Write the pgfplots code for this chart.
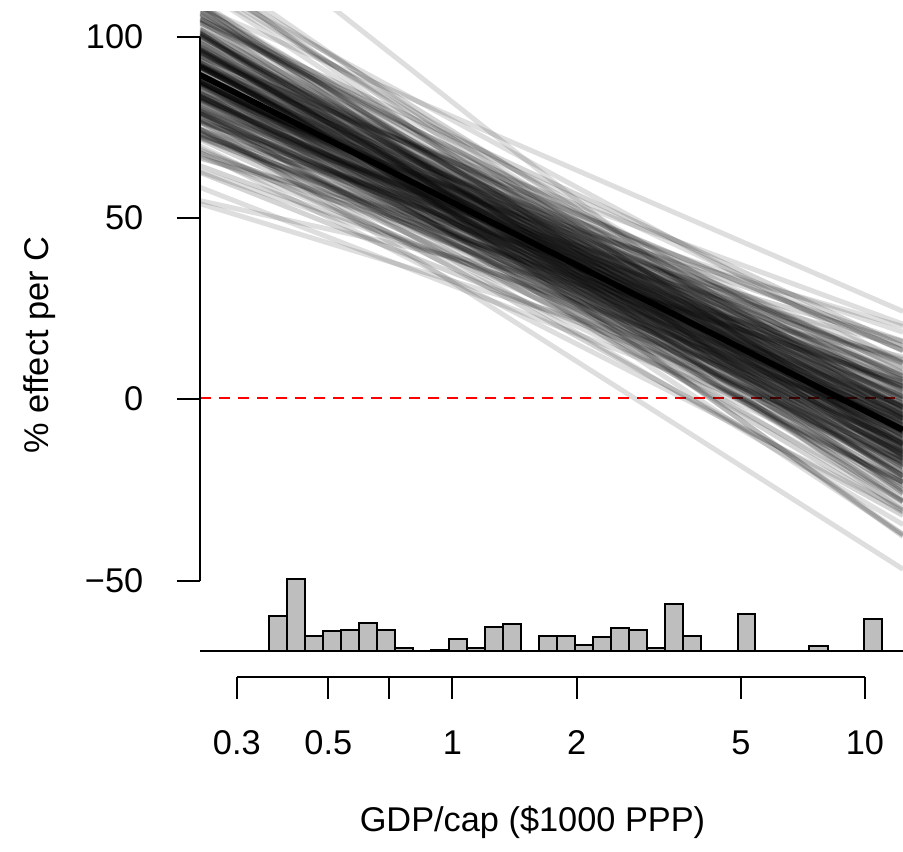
\documentclass[border=0pt]{standalone}
\usepackage{fontspec}
\setmainfont{Liberation Sans}
\usepackage{pgfplots}
\pgfplotsset{compat=1.18}
\definecolor{histgray}{RGB}{190,190,190}
\definecolor{rred}{RGB}{255,0,0}
\newcommand{\lbl}{\fontsize{10.3}{12}\selectfont}
\begin{document}
\begin{tikzpicture}
\path[use as bounding box] (0,0) rectangle (270.9pt,255.3pt);
% ---------- bootstrap lines ----------
\begin{axis}[scale only axis, width=210.9pt, height=192pt, at={(60pt,60pt)}, anchor=south west,
  xmode=log, xmin=0.2443, xmax=12.37, ymin=-69.84, ymax=106.62, hide axis,
  bl/.style={black, draw opacity=0.13, line width=1.5pt},
  bm/.style={black, draw opacity=0.17, line width=1.5pt}]
\addplot[rred, line width=0.6pt, dash pattern=on 3.3pt off 2.4pt] coordinates {(0.2443,0) (12.37,0)};
% set 1
\addplot[bl] coordinates {(0.2443,76.17) (12.37,-47.29)};
\addplot[bl] coordinates {(0.2443,67.71) (12.37,-31.00)};
\addplot[bl] coordinates {(0.2443,58.00) (12.37,-17.36)};
\addplot[bl] coordinates {(0.2443,79.02) (12.37,-34.97)};
\addplot[bl] coordinates {(0.2443,69.46) (12.37,-23.32)};
\addplot[bl] coordinates {(0.2443,53.50) (12.37,-5.81)};
\addplot[bl] coordinates {(0.2443,78.45) (12.37,-28.52)};
\addplot[bl] coordinates {(0.2443,68.79) (12.37,-17.63)};
\addplot[bl] coordinates {(0.2443,90.80) (12.37,-37.78)};
\addplot[bl] coordinates {(0.2443,77.38) (12.37,-23.46)};
\addplot[bl] coordinates {(0.2443,66.81) (12.37,-12.01)};
\addplot[bl] coordinates {(0.2443,86.65) (12.37,-30.33)};
\addplot[bl] coordinates {(0.2443,76.01) (12.37,-18.95)};
\addplot[bl] coordinates {(0.2443,62.45) (12.37,-4.77)};
\addplot[bl] coordinates {(0.2443,84.23) (12.37,-25.15)};
\addplot[bl] coordinates {(0.2443,74.26) (12.37,-14.57)};
\addplot[bl] coordinates {(0.2443,98.78) (12.37,-37.71)};
\addplot[bl] coordinates {(0.2443,82.24) (12.37,-20.78)};
\addplot[bl] coordinates {(0.2443,71.90) (12.37,-9.91)};
\addplot[bl] coordinates {(0.2443,91.80) (12.37,-28.64)};
\addplot[bl] coordinates {(0.2443,80.35) (12.37,-16.74)};
\addplot[bl] coordinates {(0.2443,68.18) (12.37,-4.16)};
\addplot[bl] coordinates {(0.2443,88.55) (12.37,-23.39)};
\addplot[bl] coordinates {(0.2443,78.34) (12.37,-12.76)};
\addplot[bl] coordinates {(0.2443,54.34) (12.37,11.31)};
\addplot[bl] coordinates {(0.2443,86.13) (12.37,-19.12)};
\addplot[bl] coordinates {(0.2443,75.95) (12.37,-8.57)};
\addplot[bl] coordinates {(0.2443,96.53) (12.37,-28.08)};
\addplot[bl] coordinates {(0.2443,84.00) (12.37,-15.24)};
\addplot[bl] coordinates {(0.2443,72.67) (12.37,-3.61)};
\addplot[bl] coordinates {(0.2443,92.40) (12.37,-22.30)};
\addplot[bl] coordinates {(0.2443,81.86) (12.37,-11.46)};
\addplot[bl] coordinates {(0.2443,66.20) (12.37,4.40)};
\addplot[bl] coordinates {(0.2443,89.63) (12.37,-17.94)};
\addplot[bl] coordinates {(0.2443,79.51) (12.37,-7.52)};
\addplot[bl] coordinates {(0.2443,101.59) (12.37,-28.55)};
\addplot[bl] coordinates {(0.2443,87.32) (12.37,-14.08)};
\addplot[bl] coordinates {(0.2443,76.54) (12.37,-3.04)};
\addplot[bl] coordinates {(0.2443,96.15) (12.37,-21.66)};
\addplot[bl] coordinates {(0.2443,85.12) (12.37,-10.37)};
\addplot[bl] coordinates {(0.2443,71.82) (12.37,3.14)};
\addplot[bl] coordinates {(0.2443,92.97) (12.37,-17.03)};
\addplot[bl] coordinates {(0.2443,82.81) (12.37,-6.59)};
\addplot[bl] coordinates {(0.2443,108.48) (12.37,-31.17)};
\addplot[bl] coordinates {(0.2443,90.49) (12.37,-13.08)};
\addplot[bl] coordinates {(0.2443,80.09) (12.37,-2.43)};
\addplot[bl] coordinates {(0.2443,100.00) (12.37,-21.39)};
\addplot[bl] coordinates {(0.2443,88.23) (12.37,-9.39)};
\addplot[bl] coordinates {(0.2443,76.23) (12.37,2.82)};
\addplot[bl] coordinates {(0.2443,96.30) (12.37,-16.29)};
\addplot[bl] coordinates {(0.2443,85.98) (12.37,-5.70)};
\addplot[bl] coordinates {(0.2443,66.00) (12.37,14.32)};
\addplot[bl] coordinates {(0.2443,93.64) (12.37,-12.19)};
\addplot[bl] coordinates {(0.2443,83.44) (12.37,-1.73)};
\addplot[bl] coordinates {(0.2443,104.26) (12.37,-21.57)};
\addplot[bl] coordinates {(0.2443,91.33) (12.37,-8.45)};
\addplot[bl] coordinates {(0.2443,80.15) (12.37,2.99)};
\addplot[bl] coordinates {(0.2443,99.77) (12.37,-15.68)};
\addplot[bl] coordinates {(0.2443,89.11) (12.37,-4.76)};
\addplot[bl] coordinates {(0.2443,74.18) (12.37,10.32)};
\addplot[bl] coordinates {(0.2443,96.85) (12.37,-11.31)};
\addplot[bl] coordinates {(0.2443,86.73) (12.37,-0.91)};
\addplot[bl] coordinates {(0.2443,109.41) (12.37,-22.53)};
\addplot[bl] coordinates {(0.2443,94.49) (12.37,-7.44)};
\addplot[bl] coordinates {(0.2443,83.84) (12.37,3.49)};
\addplot[bl] coordinates {(0.2443,103.48) (12.37,-15.16)};
\addplot[bl] coordinates {(0.2443,92.31) (12.37,-3.71)};
\addplot[bl] coordinates {(0.2443,79.41) (12.37,9.44)};
\addplot[bl] coordinates {(0.2443,100.26) (12.37,-10.37)};
\addplot[bl] coordinates {(0.2443,90.09) (12.37,0.12)};
\addplot[bl] coordinates {(0.2443,117.77) (12.37,-26.35)};
\addplot[bl] coordinates {(0.2443,97.83) (12.37,-6.29)};
\addplot[bl] coordinates {(0.2443,87.55) (12.37,4.34)};
\addplot[bl] coordinates {(0.2443,107.67) (12.37,-14.72)};
\addplot[bl] coordinates {(0.2443,95.73) (12.37,-2.45)};
\addplot[bl] coordinates {(0.2443,84.02) (12.37,9.61)};
\addplot[bl] coordinates {(0.2443,104.00) (12.37,-9.28)};
\addplot[bl] coordinates {(0.2443,93.68) (12.37,1.45)};
\addplot[bl] coordinates {(0.2443,75.77) (12.37,19.62)};
\addplot[bl] coordinates {(0.2443,101.54) (12.37,-4.86)};
\addplot[bl] coordinates {(0.2443,91.48) (12.37,5.68)};
\addplot[bl] coordinates {(0.2443,112.74) (12.37,-14.38)};
\addplot[bl] coordinates {(0.2443,99.57) (12.37,-0.74)};
\addplot[bl] coordinates {(0.2443,88.67) (12.37,10.68)};
\addplot[bl] coordinates {(0.2443,108.42) (12.37,-7.80)};
\addplot[bl] coordinates {(0.2443,97.81) (12.37,3.41)};
\addplot[bl] coordinates {(0.2443,83.72) (12.37,18.06)};
\addplot[bl] coordinates {(0.2443,106.00) (12.37,-2.77)};
\addplot[bl] coordinates {(0.2443,96.11) (12.37,7.88)};
\addplot[bl] coordinates {(0.2443,119.80) (12.37,-14.20)};
\addplot[bl] coordinates {(0.2443,104.43) (12.37,1.95)};
\addplot[bl] coordinates {(0.2443,94.22) (12.37,13.12)};
\addplot[bl] coordinates {(0.2443,114.34) (12.37,-5.18)};
\addplot[bl] coordinates {(0.2443,103.46) (12.37,6.90)};
\addplot[bl] coordinates {(0.2443,91.47) (12.37,20.28)};
\addplot[bl] coordinates {(0.2443,112.72) (12.37,1.44)};
\addplot[bl] coordinates {(0.2443,103.40) (12.37,12.85)};
\addplot[bl] coordinates {(0.2443,136.36) (12.37,-16.41)};
\addplot[bl] coordinates {(0.2443,114.14) (12.37,9.44)};
\addplot[bl] coordinates {(0.2443,107.66) (12.37,23.80)};
% set 2
\addplot[bm] coordinates {(0.2443,74.04) (12.37,-32.47)};
\addplot[bm] coordinates {(0.2443,62.13) (12.37,-14.83)};
\addplot[bm] coordinates {(0.2443,73.99) (12.37,-23.30)};
\addplot[bm] coordinates {(0.2443,84.70) (12.37,-31.57)};
\addplot[bm] coordinates {(0.2443,71.22) (12.37,-16.65)};
\addplot[bm] coordinates {(0.2443,80.23) (12.37,-24.04)};
\addplot[bm] coordinates {(0.2443,63.94) (12.37,-6.88)};
\addplot[bm] coordinates {(0.2443,76.87) (12.37,-18.41)};
\addplot[bm] coordinates {(0.2443,86.27) (12.37,-26.57)};
\addplot[bm] coordinates {(0.2443,72.79) (12.37,-12.50)};
\addplot[bm] coordinates {(0.2443,81.74) (12.37,-20.41)};
\addplot[bm] coordinates {(0.2443,100.82) (12.37,-38.23)};
\addplot[bm] coordinates {(0.2443,78.01) (12.37,-15.22)};
\addplot[bm] coordinates {(0.2443,86.83) (12.37,-23.13)};
\addplot[bm] coordinates {(0.2443,73.19) (12.37,-9.15)};
\addplot[bm] coordinates {(0.2443,82.51) (12.37,-17.60)};
\addplot[bm] coordinates {(0.2443,94.60) (12.37,-28.82)};
\addplot[bm] coordinates {(0.2443,78.55) (12.37,-12.55)};
\addplot[bm] coordinates {(0.2443,87.11) (12.37,-20.34)};
\addplot[bm] coordinates {(0.2443,72.85) (12.37,-5.88)};
\addplot[bm] coordinates {(0.2443,82.93) (12.37,-15.18)};
\addplot[bm] coordinates {(0.2443,93.21) (12.37,-24.72)};
\addplot[bm] coordinates {(0.2443,78.75) (12.37,-10.08)};
\addplot[bm] coordinates {(0.2443,87.25) (12.37,-17.90)};
\addplot[bm] coordinates {(0.2443,71.59) (12.37,-2.13)};
\addplot[bm] coordinates {(0.2443,83.15) (12.37,-12.95)};
\addplot[bm] coordinates {(0.2443,92.49) (12.37,-21.62)};
\addplot[bm] coordinates {(0.2443,78.68) (12.37,-7.69)};
\addplot[bm] coordinates {(0.2443,87.32) (12.37,-15.68)};
\addplot[bm] coordinates {(0.2443,67.42) (12.37,4.19)};
\addplot[bm] coordinates {(0.2443,83.23) (12.37,-10.84)};
\addplot[bm] coordinates {(0.2443,92.04) (12.37,-19.02)};
\addplot[bm] coordinates {(0.2443,78.35) (12.37,-5.24)};
\addplot[bm] coordinates {(0.2443,87.33) (12.37,-13.59)};
\addplot[bm] coordinates {(0.2443,100.65) (12.37,-26.19)};
\addplot[bm] coordinates {(0.2443,83.20) (12.37,-8.75)};
\addplot[bm] coordinates {(0.2443,91.74) (12.37,-16.69)};
\addplot[bm] coordinates {(0.2443,77.70) (12.37,-2.58)};
\addplot[bm] coordinates {(0.2443,87.32) (12.37,-11.59)};
\addplot[bm] coordinates {(0.2443,98.09) (12.37,-21.73)};
\addplot[bm] coordinates {(0.2443,83.08) (12.37,-6.67)};
\addplot[bm] coordinates {(0.2443,91.51) (12.37,-14.54)};
\addplot[bm] coordinates {(0.2443,76.49) (12.37,0.51)};
\addplot[bm] coordinates {(0.2443,87.26) (12.37,-9.63)};
\addplot[bm] coordinates {(0.2443,96.87) (12.37,-18.65)};
\addplot[bm] coordinates {(0.2443,82.82) (12.37,-4.55)};
\addplot[bm] coordinates {(0.2443,91.35) (12.37,-12.50)};
\addplot[bm] coordinates {(0.2443,73.89) (12.37,4.93)};
\addplot[bm] coordinates {(0.2443,87.18) (12.37,-7.70)};
\addplot[bm] coordinates {(0.2443,96.14) (12.37,-16.07)};
\addplot[bm] coordinates {(0.2443,82.44) (12.37,-2.30)};
\addplot[bm] coordinates {(0.2443,91.23) (12.37,-10.50)};
\addplot[bm] coordinates {(0.2443,107.01) (12.37,-25.56)};
\addplot[bm] coordinates {(0.2443,87.08) (12.37,-5.72)};
\addplot[bm] coordinates {(0.2443,95.68) (12.37,-13.75)};
\addplot[bm] coordinates {(0.2443,81.84) (12.37,0.15)};
\addplot[bm] coordinates {(0.2443,91.14) (12.37,-8.56)};
\addplot[bm] coordinates {(0.2443,102.65) (12.37,-19.43)};
\addplot[bm] coordinates {(0.2443,86.94) (12.37,-3.71)};
\addplot[bm] coordinates {(0.2443,95.39) (12.37,-11.58)};
\addplot[bm] coordinates {(0.2443,80.87) (12.37,3.00)};
\addplot[bm] coordinates {(0.2443,91.08) (12.37,-6.61)};
\addplot[bm] coordinates {(0.2443,101.09) (12.37,-15.98)};
\addplot[bm] coordinates {(0.2443,86.76) (12.37,-1.59)};
\addplot[bm] coordinates {(0.2443,95.23) (12.37,-9.47)};
\addplot[bm] coordinates {(0.2443,79.08) (12.37,6.70)};
\addplot[bm] coordinates {(0.2443,91.08) (12.37,-4.61)};
\addplot[bm] coordinates {(0.2443,100.28) (12.37,-13.18)};
\addplot[bm] coordinates {(0.2443,86.52) (12.37,0.68)};
\addplot[bm] coordinates {(0.2443,95.19) (12.37,-7.38)};
\addplot[bm] coordinates {(0.2443,72.22) (12.37,15.47)};
\addplot[bm] coordinates {(0.2443,91.11) (12.37,-2.54)};
\addplot[bm] coordinates {(0.2443,99.87) (12.37,-10.64)};
\addplot[bm] coordinates {(0.2443,86.15) (12.37,3.19)};
\addplot[bm] coordinates {(0.2443,95.27) (12.37,-5.25)};
\addplot[bm] coordinates {(0.2443,107.88) (12.37,-17.10)};
\addplot[bm] coordinates {(0.2443,91.20) (12.37,-0.33)};
\addplot[bm] coordinates {(0.2443,99.73) (12.37,-8.20)};
\addplot[bm] coordinates {(0.2443,85.63) (12.37,6.10)};
\addplot[bm] coordinates {(0.2443,95.49) (12.37,-3.02)};
\addplot[bm] coordinates {(0.2443,106.04) (12.37,-12.80)};
\addplot[bm] coordinates {(0.2443,91.36) (12.37,2.07)};
\addplot[bm] coordinates {(0.2443,99.91) (12.37,-5.69)};
\addplot[bm] coordinates {(0.2443,84.67) (12.37,9.78)};
\addplot[bm] coordinates {(0.2443,95.90) (12.37,-0.60)};
\addplot[bm] coordinates {(0.2443,105.49) (12.37,-9.31)};
\addplot[bm] coordinates {(0.2443,91.69) (12.37,4.82)};
\addplot[bm] coordinates {(0.2443,100.42) (12.37,-2.99)};
\addplot[bm] coordinates {(0.2443,82.16) (12.37,15.57)};
\addplot[bm] coordinates {(0.2443,96.67) (12.37,2.21)};
\addplot[bm] coordinates {(0.2443,105.78) (12.37,-5.86)};
\addplot[bm] coordinates {(0.2443,92.34) (12.37,8.18)};
\addplot[bm] coordinates {(0.2443,101.54) (12.37,0.20)};
\addplot[bm] coordinates {(0.2443,116.20) (12.37,-13.01)};
\addplot[bm] coordinates {(0.2443,98.20) (12.37,5.81)};
\addplot[bm] coordinates {(0.2443,107.29) (12.37,-1.64)};
\addplot[bm] coordinates {(0.2443,94.04) (12.37,13.04)};
\addplot[bm] coordinates {(0.2443,104.41) (12.37,5.11)};
\addplot[bm] coordinates {(0.2443,116.92) (12.37,-3.99)};
\addplot[bm] coordinates {(0.2443,104.42) (12.37,14.22)};
% central estimate
\addplot[black, line width=1.8pt] coordinates {(0.2443,89.0) (12.37,-8.9)};
\end{axis}
% ---------- histogram ----------
\begin{axis}[scale only axis, width=210.9pt, height=30pt, at={(60pt,60pt)}, anchor=south west,
  xmode=log, xmin=0.2443, xmax=12.37, ymin=0, ymax=100, hide axis, clip=false]
\addplot[black, line width=0.6pt] coordinates {(0.2443,0) (12.37,0)};
\addplot[ybar interval, fill=histgray, draw=black, line width=0.6pt] coordinates {
(0.3597,35.4) (0.3978,71.7) (0.4397,15.3) (0.4862,19.7) (0.5376,21.0) (0.5944,28.3)
(0.6574,21.0) (0.7270,3.0) (0.8038,0) (0.8888,1.5) (0.9829,12.0) (1.0869,3.0)
(1.2017,24.4) (1.3288,26.7) (1.4693,0) (1.6248,15.3) (1.7968,15.3) (1.9866,6.3)
(2.1967,13.7) (2.4290,22.7) (2.6860,21.0) (2.9705,3.0) (3.2845,46.7) (3.6316,15.3)
(4.0157,0) (4.4403,0) (4.9106,37.3) (5.4290,0) (6.0036,0) (6.6374,0) (7.3400,4.7)
(8.1170,0) (8.9743,0) (9.9243,31.7) (10.973,0)};
\end{axis}
% ---------- y axis ----------
\begin{axis}[scale only axis, width=210.9pt, height=163.2pt, at={(60pt,81.15pt)}, anchor=south west,
  xmin=0, xmax=1, ymin=-50, ymax=100, axis y line=left, axis x line=none,
  axis line style={-, line width=0.6pt}, tick style={black, line width=0.6pt},
  ytick={-50,0,50,100}, yticklabels={−50,0,50,100}, xtick=\empty,
  tick align=outside, major tick length=6.9pt,
  yticklabel style={font=\lbl, xshift=-6.6pt},
  ylabel={\% effect per C},
  every axis y label/.style={at={(axis description cs:-0.2276,0.4325)}, rotate=90, anchor=center, font=\lbl}]
\end{axis}
% ---------- x axis ----------
\begin{axis}[scale only axis, width=188.46pt, height=10pt, at={(71.04pt,52.2pt)}, anchor=south west,
  xmode=log, xmin=0.3, xmax=10, ymin=0, ymax=1, axis x line=bottom, axis y line=none,
  axis line style={-, line width=0.6pt}, tick style={black, line width=0.6pt},
  xtick={0.3,0.5,0.7,1,2,5,10}, xticklabels={0.3,0.5,,1,2,5,10}, xminorticks=false, ytick=\empty,
  tick align=outside, major tick length=6.6pt,
  xticklabel style={font=\lbl, yshift=-6pt},
  xlabel={GDP/cap (\$1000 PPP)},
  every axis x label/.style={at={(axis description cs:0.4707,0)}, yshift=-43.5pt, anchor=center, font=\lbl}]
\end{axis}
\end{tikzpicture}
\end{document}
